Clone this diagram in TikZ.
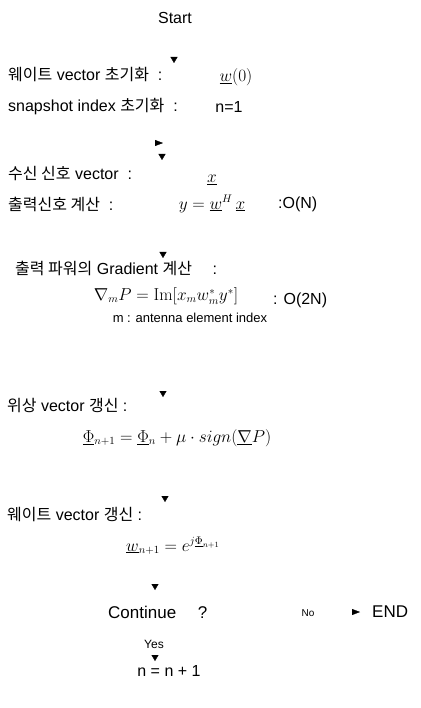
\documentclass[tikz,border=0pt]{standalone}
\usepackage[no-math]{fontspec}
\setmainfont{Liberation Sans}
\newfontfamily\krfont{Noto Sans CJK KR}
\newcommand\ko[1]{{\krfont #1}}
\usetikzlibrary{arrows.meta}
\begin{document}
\begin{tikzpicture}[x=1pt,y=-1pt,
  txt/.style={inner sep=0pt,font=\fontsize{16}{19}\selectfont},
  lbl/.style={txt,anchor=west},
  frm/.style={inner sep=0pt,font=\fontsize{16}{19}\selectfont},
  small/.style={inner sep=0pt,font=\fontsize{12}{14}\selectfont},
  tipd/.style={-{Triangle[length=6pt,width=7pt]},line width=0.3pt},
  tipr/.style={-{Triangle[length=8pt,width=6pt]},line width=0.3pt}]
\useasboundingbox (0,0) rectangle (420,708);

% nodes
\node[txt] (start) at (175,18) {Start};
\node[lbl] (initw) at (8,75) {\ko{웨이트} vector \ko{초기화} \ :};
\node[frm] (w0) at (236,77) {$\underline{w}(0)$};
\node[lbl] (snap) at (8,107) {snapshot index \ko{초기화} \ :};
\node[txt] (n1) at (229,107) {n=1};
\node[lbl] (recv) at (8,174) {\ko{수신 신호} vector \ :};
\node[frm] (xv) at (212,180) {$\underline{x}$};
\node[lbl] (out) at (8,204) {\ko{출력신호 계산} \ :};
\node[frm] (yeq) at (212,204) {$y=\underline{w}^H\,\underline{x}$};
\node[lbl] (on) at (278,204) {:O(N)};
\node[lbl] (grad) at (15,268) {\ko{출력 파워의} Gradient \ko{계산} \quad :};
\node[frm] (gradeq) at (166,296) {$\nabla_{m}P=\mathrm{Im}[x_m w_m^{*} y^{*}]$};
\node[lbl] (o2n) at (273,300) {: O(2N)};
\node[inner sep=0pt,font=\fontsize{13}{15}\selectfont] (ant) at (190,318) {m : antenna element index};
\node[lbl] (phase) at (7,406) {\ko{위상} vector \ko{갱신} :};
\node[frm] (phieq) at (177,438) {$\underline{\Phi}_{n+1}=\underline{\Phi}_{n}+\mu\cdot sign(\underline{\nabla}P)$};
\node[lbl] (wupd) at (7,515) {\ko{웨이트} vector \ko{갱신} :};
\node[frm] (weq) at (173,546) {$\underline{w}_{n+1}=e^{j\underline{\Phi}_{n+1}}$};
\node[inner sep=0pt,anchor=west,font=\fontsize{17}{20}\selectfont] (cont) at (108,612) {Continue \quad ?};
\node[inner sep=0pt,font=\fontsize{10}{12}\selectfont] (no) at (308,613) {No};
\node[inner sep=0pt,anchor=west,font=\fontsize{17}{20}\selectfont] (end) at (372,612) {END};
\node[small] (yes) at (154,644) {Yes};
\node[txt] (inc) at (169,671) {n = n + 1};

% arrow tips (connector lines are not visible in the original)
\coordinate (a1s) at (174,57);  \coordinate (a1) at (174,63);
\coordinate (a2s) at (155,143); \coordinate (a2) at (163,143);
\coordinate (a3s) at (162,154); \coordinate (a3) at (162,160);
\coordinate (a4s) at (163,252); \coordinate (a4) at (163,258);
\coordinate (a5s) at (163,391); \coordinate (a5) at (163,397);
\coordinate (a6s) at (165,496); \coordinate (a6) at (165,502);
\coordinate (a7s) at (155,584); \coordinate (a7) at (155,590);
\coordinate (a8s) at (352,612); \coordinate (a8) at (360,612);
\coordinate (a9s) at (155,655); \coordinate (a9) at (155,661);
\draw[tipd] (a1s) -- (a1);
\draw[tipr] (a2s) -- (a2);
\draw[tipd] (a3s) -- (a3);
\draw[tipd] (a4s) -- (a4);
\draw[tipd] (a5s) -- (a5);
\draw[tipd] (a6s) -- (a6);
\draw[tipd] (a7s) -- (a7);
\draw[tipr] (a8s) -- (a8);
\draw[tipd] (a9s) -- (a9);
\end{tikzpicture}
\end{document}
